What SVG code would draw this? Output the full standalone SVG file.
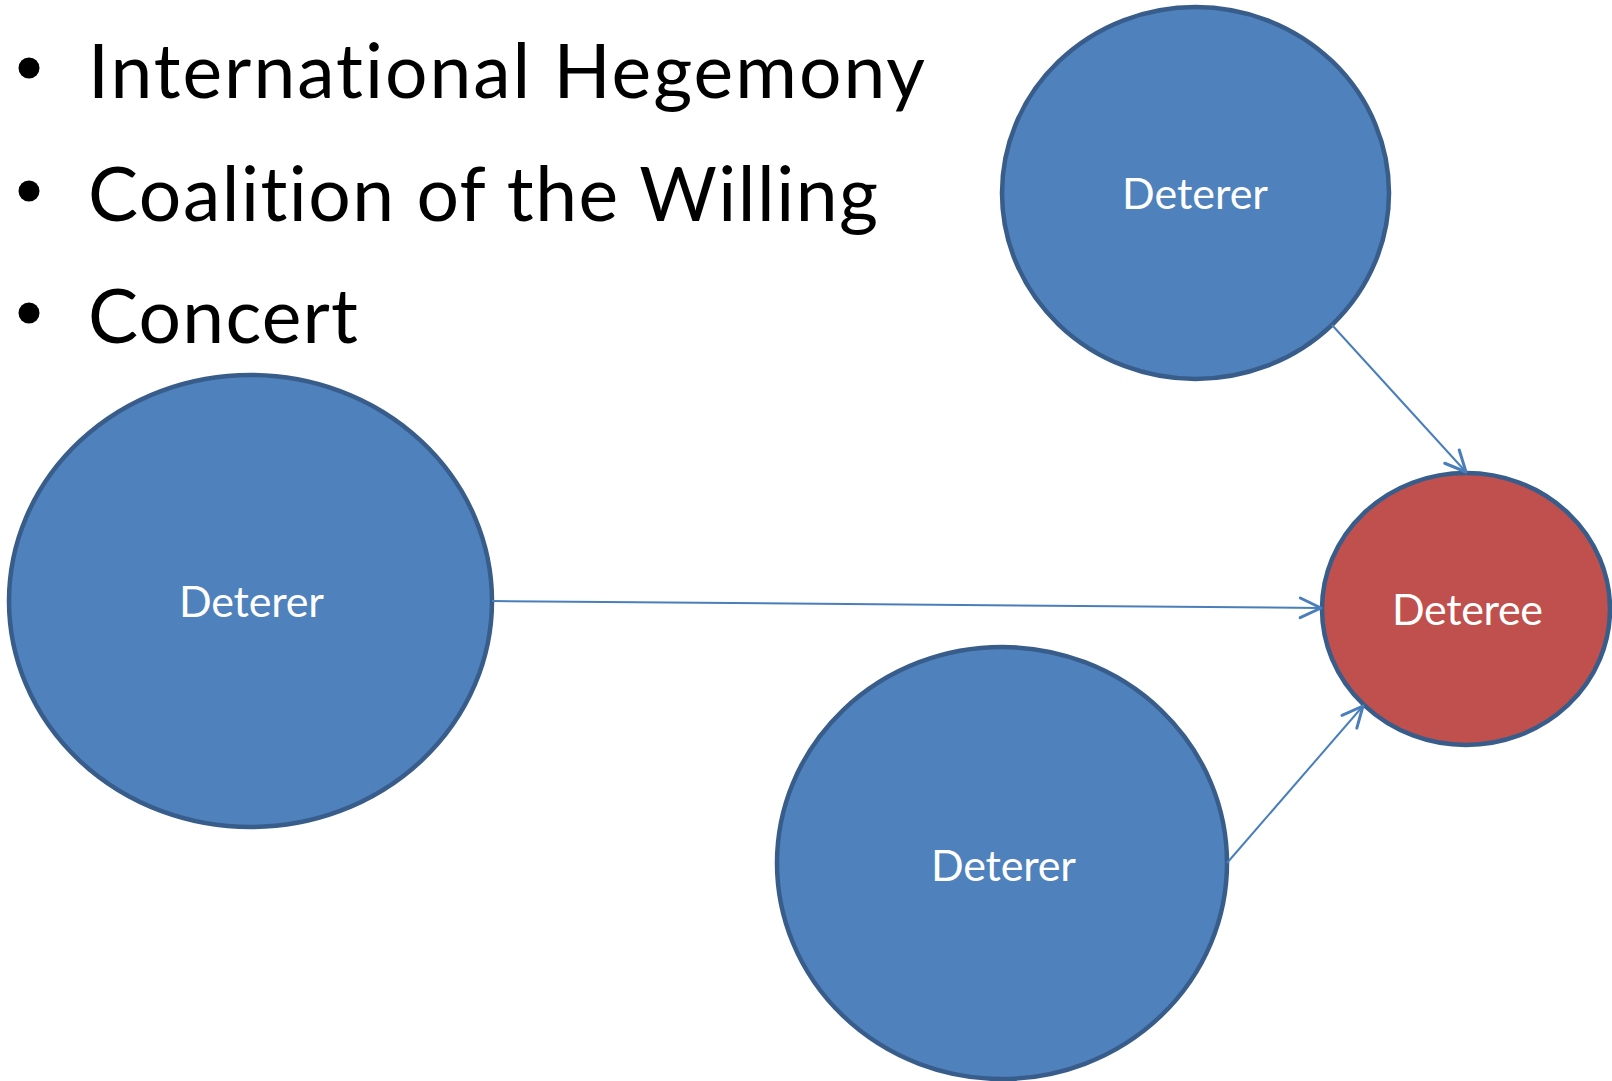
<svg xmlns="http://www.w3.org/2000/svg" width="1612" height="1081" viewBox="0 0 1612 1081">
  <style>
    .bullet-text { font-family: Lato, "Open Sans", "Liberation Sans", sans-serif; font-size: 75px; fill: #000000; font-variant-ligatures: none; font-feature-settings: "liga" 0, "clig" 0; }
    .node-shape { stroke: #385D8A; stroke-width: 4.5; }
    .deterer { fill: #4F81BD; }
    .deteree { fill: #C0504D; }
    .node-label { font-family: Lato, "Open Sans", "Liberation Sans", sans-serif; font-size: 43px; fill: #FFFFFF; text-anchor: middle; font-variant-ligatures: none; }
    .edge { stroke: #4A7EBB; stroke-width: 2; fill: none; marker-end: url(#open-arrow); }
  </style>
  <defs>
    <marker id="open-arrow" markerUnits="userSpaceOnUse" markerWidth="30" markerHeight="30" viewBox="-22 -12 26 24" refX="0" refY="0" orient="auto">
      <path d="M-18,-8.5 L0,0 L-18,8.5" fill="none" stroke="#4A7EBB" stroke-width="2.6" stroke-linecap="round" stroke-linejoin="round"/>
    </marker>
  </defs>

  <rect x="0" y="0" width="1612" height="1081" fill="#FFFFFF"/>

  <!-- bullet list -->
  <g id="bullets">
    <circle cx="29" cy="68" r="10.5" fill="#000000"/>
    <text class="bullet-text" x="88" y="98" textLength="837" lengthAdjust="spacing">International Hegemony</text>
    <circle cx="29" cy="191" r="10.5" fill="#000000"/>
    <text class="bullet-text" x="88" y="221" textLength="790" lengthAdjust="spacing">Coalition of the Willing</text>
    <circle cx="29" cy="313" r="10.5" fill="#000000"/>
    <text class="bullet-text" x="88" y="343" textLength="270" lengthAdjust="spacing">Concert</text>
  </g>

  <!-- nodes -->
  <g id="deterer-top">
    <ellipse class="node-shape deterer" cx="1195.5" cy="193" rx="193.5" ry="186"/>
    <text class="node-label" x="1195" y="209" textLength="146" lengthAdjust="spacing">Deterer</text>
  </g>
  <g id="deterer-left">
    <ellipse class="node-shape deterer" cx="250.5" cy="601" rx="241.5" ry="226"/>
    <text class="node-label" x="251.5" y="617" textLength="145" lengthAdjust="spacing">Deterer</text>
  </g>
  <g id="deterer-bottom">
    <ellipse class="node-shape deterer" cx="1002" cy="863" rx="225" ry="216"/>
    <text class="node-label" x="1003.5" y="881" textLength="145" lengthAdjust="spacing">Deterer</text>
  </g>
  <g id="deteree">
    <ellipse class="node-shape deteree" cx="1466" cy="609" rx="144" ry="136"/>
    <text class="node-label" x="1467.5" y="625" textLength="151" lengthAdjust="spacing">Deteree</text>
  </g>

  <!-- connectors -->
  <g id="connectors">
    <line class="edge" x1="1332" y1="325" x2="1466" y2="472"/>
    <line class="edge" x1="492" y1="601" x2="1321" y2="608"/>
    <line class="edge" x1="1227" y1="863" x2="1363" y2="706"/>
  </g>
</svg>
